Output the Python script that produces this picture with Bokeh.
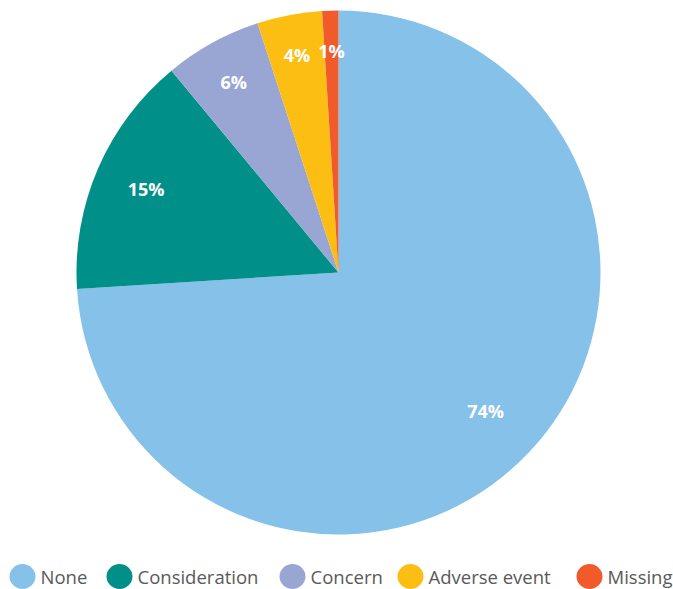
import numpy as np
from bokeh.plotting import figure
from bokeh.models import Range1d, ColumnDataSource
from bokeh.core.properties import value
from bokeh.embed import file_html
from bokeh.resources import INLINE

# ---- data ----
categories = ["None", "Consideration", "Concern", "Adverse event", "Missing"]
shares = [74, 15, 6, 4, 1]
pct_labels = ["74%", "15%", "6%", "4%", "1%"]
colors = ["#85C1E9", "#009089", "#99A6D4", "#FDBE13", "#F15B2C"]

# ---- layout (pixel coordinates from top-left, y negated) ----
W, H = 673, 589
cx, cy, R = 338, -272, 262
label_frac = [0.77, 0.80, 0.83, 0.845, 0.845]
legend_text_x = [40, 137, 310, 428, 607]
legend_y = -576

p = figure(width=W, height=H, output_backend="svg", toolbar_location=None,
           x_range=Range1d(0, W), y_range=Range1d(-H, 0),
           min_border=0, background_fill_color="white", border_fill_color="white")
p.axis.visible = False
p.grid.visible = False
p.outline_line_color = None

frac = np.array(shares, dtype=float) / sum(shares)
cum = np.concatenate([[0.0], np.cumsum(frac)])
start = np.pi / 2 - 2 * np.pi * cum[:-1]
end = np.pi / 2 - 2 * np.pi * cum[1:]
mid = (start + end) / 2
lf = np.array(label_frac)

src = ColumnDataSource(dict(cat=categories, start=start, end=end, color=colors,
                            lx=cx + lf * R * np.cos(mid),
                            ly=cy + lf * R * np.sin(mid),
                            lab=pct_labels))

p.wedge(x=cx, y=cy, radius=R, start_angle="start", end_angle="end",
        direction="clock", fill_color="color", line_color=None, source=src)

p.text(x="lx", y="ly", text="lab", source=src, text_color="white",
       text_font=value("Open Sans"), text_font_style="bold",
       text_font_size="18px", text_align="center", text_baseline="middle")

# legend (manual)
leg = ColumnDataSource(dict(tx=legend_text_x,
                            mx=[x - 18 for x in legend_text_x],
                            y=[legend_y] * len(categories),
                            cat=categories, color=colors))
p.ellipse(x="mx", y="y", width=26, height=25, fill_color="color",
          line_color=None, source=leg)
p.text(x="tx", y="y", text="cat", source=leg, text_color="#595959",
       text_font=value("Open Sans"), text_font_size="18.5px",
       text_align="left", text_baseline="middle")

open("out.html", "w").write(file_html(p, INLINE))
